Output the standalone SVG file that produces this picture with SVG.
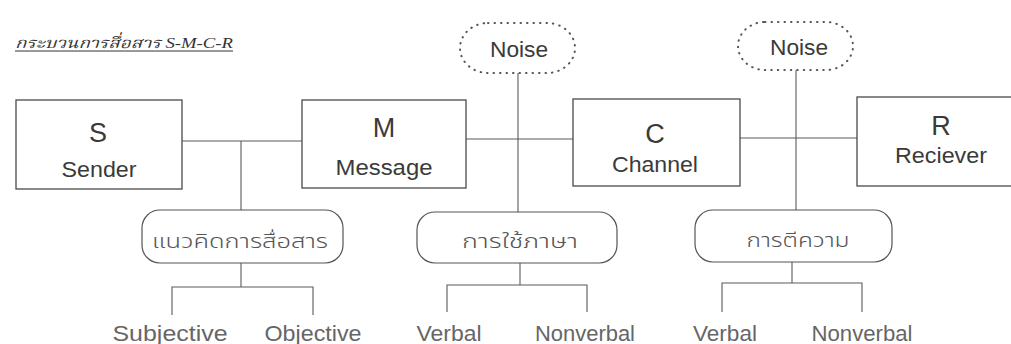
<svg xmlns="http://www.w3.org/2000/svg" width="1011" height="344" viewBox="0 0 1011 344">
  <style>
    .box { fill: #ffffff; stroke: #4a4a4a; stroke-width: 1.3; }
    .pill { fill: #ffffff; stroke: #555555; stroke-width: 1.2; }
    .noise { fill: #ffffff; stroke: #555555; stroke-width: 2; stroke-dasharray: 0.5 6; stroke-linecap: round; }
    .line { fill: none; stroke: #5a5a5a; stroke-width: 1.1; }
    .big { font-family: "Liberation Sans", Arial, sans-serif; font-size: 27px; fill: #3a3a3a; text-anchor: middle; }
    .name { font-family: "Liberation Sans", Arial, sans-serif; font-size: 22px; fill: #3a3a3a; text-anchor: middle; }
    .leaf { font-family: "Liberation Sans", Arial, sans-serif; font-size: 22px; fill: #666666; text-anchor: middle; }
    .thai { font-family: "Noto Sans Thai", "Noto Sans", "DejaVu Sans", sans-serif; font-size: 19px; fill: #555555; text-anchor: middle; font-weight: 300; }
    .title { font-family: "Liberation Serif", "Noto Serif Thai", serif; font-style: italic; font-size: 15px; fill: #333333; }
  </style>

  <rect width="1011" height="344" fill="#ffffff"/>

  <!-- heading -->
  <g id="title">
    <text class="title" x="15" y="48" textLength="218" lengthAdjust="spacingAndGlyphs">กระบวนการสื่อสาร S-M-C-R</text>
    <line x1="15" y1="51" x2="233" y2="51" stroke="#333333" stroke-width="1"/>
  </g>

  <!-- connectors -->
  <g id="connectors" class="line">
    <!-- main chain -->
    <line x1="182" y1="141" x2="302" y2="141"/>
    <line x1="466" y1="139" x2="573" y2="139"/>
    <line x1="740" y1="138" x2="857" y2="138"/>
    <!-- drops to concept pills -->
    <line x1="241" y1="141" x2="241" y2="210"/>
    <line x1="518" y1="73" x2="518" y2="212"/>
    <line x1="796" y1="70" x2="796" y2="210"/>
    <!-- tree under first pill -->
    <line x1="241" y1="263" x2="241" y2="287"/>
    <polyline points="172,315 172,287 313,287 313,315"/>
    <!-- tree under second pill -->
    <line x1="520" y1="263" x2="520" y2="285"/>
    <polyline points="447,312 447,285 587,285 587,312"/>
    <!-- tree under third pill -->
    <line x1="792" y1="262" x2="792" y2="283"/>
    <polyline points="722,312 722,283 862,283 862,312"/>
  </g>

  <!-- noise clouds -->
  <g id="noise1">
    <rect class="noise" x="460" y="23" width="115" height="50" rx="28"/>
    <text class="name" x="519" y="57" font-size="19" textLength="58" lengthAdjust="spacingAndGlyphs" fill="#555">Noise</text>
  </g>
  <g id="noise2">
    <rect class="noise" x="738" y="22" width="115" height="48" rx="27"/>
    <text class="name" x="799" y="55" font-size="19" textLength="58" lengthAdjust="spacingAndGlyphs" fill="#555">Noise</text>
  </g>

  <!-- S-M-C-R boxes -->
  <g id="sender">
    <rect class="box" x="16" y="100" width="166" height="89"/>
    <text class="big" x="98" y="142">S</text>
    <text class="name" x="99" y="177" textLength="75" lengthAdjust="spacingAndGlyphs">Sender</text>
  </g>
  <g id="message">
    <rect class="box" x="302" y="100" width="164" height="88"/>
    <text class="big" x="384" y="137">M</text>
    <text class="name" x="384" y="175" textLength="97" lengthAdjust="spacingAndGlyphs">Message</text>
  </g>
  <g id="channel">
    <rect class="box" x="573" y="99" width="167" height="87"/>
    <text class="big" x="655" y="143">C</text>
    <text class="name" x="655" y="172" textLength="86" lengthAdjust="spacingAndGlyphs">Channel</text>
  </g>
  <g id="receiver">
    <rect class="box" x="857" y="97" width="170" height="89"/>
    <text class="big" x="941" y="135">R</text>
    <text class="name" x="941" y="163" textLength="92" lengthAdjust="spacingAndGlyphs">Reciever</text>
  </g>

  <!-- concept pills -->
  <g id="concept">
    <rect class="pill" x="142" y="210" width="201" height="53" rx="18"/>
    <text class="thai" x="240" y="248" textLength="176" lengthAdjust="spacingAndGlyphs">แนวคิดการสื่อสาร</text>
  </g>
  <g id="language">
    <rect class="pill" x="417" y="212" width="200" height="51" rx="18"/>
    <text class="thai" x="520" y="248" textLength="116" lengthAdjust="spacingAndGlyphs">การใช้ภาษา</text>
  </g>
  <g id="interpretation">
    <rect class="pill" x="695" y="210" width="197" height="52" rx="18"/>
    <text class="thai" x="798" y="247" textLength="103" lengthAdjust="spacingAndGlyphs">การตีความ</text>
  </g>

  <!-- leaf labels -->
  <g id="subjective"><text class="leaf" x="170" y="341" textLength="115" lengthAdjust="spacingAndGlyphs">Subjective</text></g>
  <g id="objective"><text class="leaf" x="313" y="341" textLength="97" lengthAdjust="spacingAndGlyphs">Objective</text></g>
  <g id="verbal1"><text class="leaf" x="449" y="341" textLength="65" lengthAdjust="spacingAndGlyphs">Verbal</text></g>
  <g id="nonverbal1"><text class="leaf" x="585" y="341" textLength="100" lengthAdjust="spacingAndGlyphs">Nonverbal</text></g>
  <g id="verbal2"><text class="leaf" x="725" y="341" textLength="64" lengthAdjust="spacingAndGlyphs">Verbal</text></g>
  <g id="nonverbal2"><text class="leaf" x="862" y="341" textLength="101" lengthAdjust="spacingAndGlyphs">Nonverbal</text></g>
</svg>
